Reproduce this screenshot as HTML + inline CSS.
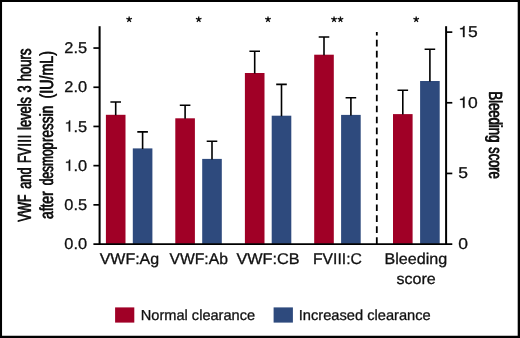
<!DOCTYPE html>
<html><head><meta charset="utf-8"><title>Figure</title>
<style>
html,body{margin:0;padding:0;background:#fff;}
body{width:520px;height:338px;overflow:hidden;position:relative;font-family:"Liberation Sans",sans-serif;}
svg{position:absolute;left:0;top:0;display:block;}
svg.tx{will-change:transform;opacity:0.999;}
text{font-family:"Liberation Sans",sans-serif;fill:#111;text-rendering:geometricPrecision;}
</style></head><body>
<svg width="520" height="338" viewBox="0 0 520 338">
<rect x="0" y="0" width="520" height="338" fill="#fff"/>
<rect x="105.9" y="114.8" width="19.6" height="129.1" fill="#a00026"/>
<rect x="132.8" y="148.4" width="19.6" height="95.5" fill="#2e4a7d"/>
<rect x="175.3" y="118.3" width="19.6" height="125.6" fill="#a00026"/>
<rect x="202.2" y="158.9" width="19.6" height="85.0" fill="#2e4a7d"/>
<rect x="244.9" y="73.0" width="19.6" height="170.9" fill="#a00026"/>
<rect x="271.7" y="115.7" width="19.6" height="128.2" fill="#2e4a7d"/>
<rect x="314.2" y="54.7" width="19.6" height="189.2" fill="#a00026"/>
<rect x="341.1" y="114.9" width="19.6" height="129.0" fill="#2e4a7d"/>
<rect x="393.0" y="114.1" width="19.6" height="129.8" fill="#a00026"/>
<rect x="420.1" y="81.0" width="19.6" height="162.9" fill="#2e4a7d"/>
<path d="M115.70 115.3V102.0M110.40 102.0H121.00" stroke="#000" stroke-width="1.6" fill="none"/>
<path d="M142.60 148.9V131.9M137.30 131.9H147.90" stroke="#000" stroke-width="1.6" fill="none"/>
<path d="M185.10 118.8V105.3M179.80 105.3H190.40" stroke="#000" stroke-width="1.6" fill="none"/>
<path d="M212.00 159.4V141.2M206.70 141.2H217.30" stroke="#000" stroke-width="1.6" fill="none"/>
<path d="M254.70 73.5V51.2M249.40 51.2H260.00" stroke="#000" stroke-width="1.6" fill="none"/>
<path d="M281.50 116.2V84.4M276.20 84.4H286.80" stroke="#000" stroke-width="1.6" fill="none"/>
<path d="M324.00 55.2V37.0M318.70 37.0H329.30" stroke="#000" stroke-width="1.6" fill="none"/>
<path d="M350.90 115.4V97.8M345.60 97.8H356.20" stroke="#000" stroke-width="1.6" fill="none"/>
<path d="M402.80 114.6V90.3M397.50 90.3H408.10" stroke="#000" stroke-width="1.6" fill="none"/>
<path d="M429.90 81.5V49.3M424.60 49.3H435.20" stroke="#000" stroke-width="1.6" fill="none"/>
<path d="M376.8 243.9V32" stroke="#000" stroke-width="1.8" stroke-dasharray="6.6 4.37" fill="none"/>
<path d="M99.6 26.2V244.5" stroke="#000" stroke-width="2.05" fill="none"/>
<path d="M93.4 244.15H452.3" stroke="#000" stroke-width="1.85" fill="none"/>
<path d="M446.1 26.2V244.5" stroke="#000" stroke-width="2.0" fill="none"/>
<path d="M93.4 204.85H99.9" stroke="#000" stroke-width="1.7"/>
<path d="M93.4 165.65H99.9" stroke="#000" stroke-width="1.7"/>
<path d="M93.4 126.45H99.9" stroke="#000" stroke-width="1.7"/>
<path d="M93.4 87.25H99.9" stroke="#000" stroke-width="1.7"/>
<path d="M93.4 48.05H99.9" stroke="#000" stroke-width="1.7"/>
<path d="M446.1 173.44H452.3" stroke="#000" stroke-width="1.7"/>
<path d="M446.1 102.77H452.3" stroke="#000" stroke-width="1.7"/>
<path d="M446.1 32.11H452.3" stroke="#000" stroke-width="1.7"/>
<rect x="115.1" y="307.4" width="19.2" height="15.2" fill="#a00026"/>
<rect x="273.6" y="307.4" width="19.3" height="15.2" fill="#2e4a7d"/>
</svg>
<svg class="tx" width="520" height="338" viewBox="0 0 520 338">
<text transform="translate(129.40 263.80) scale(1.0320 1)" font-size="15.5" stroke="#111" stroke-width="0.3" text-anchor="middle">VWF:Ag</text>
<text transform="translate(198.65 263.80) scale(1.0124 1)" font-size="15.5" stroke="#111" stroke-width="0.3" text-anchor="middle">VWF:Ab</text>
<text transform="translate(268.05 263.80) scale(1.0491 1)" font-size="15.5" stroke="#111" stroke-width="0.3" text-anchor="middle">VWF:CB</text>
<text transform="translate(337.40 263.80) scale(1.0130 1)" font-size="15.5" stroke="#111" stroke-width="0.3" text-anchor="middle">FVIII:C</text>
<text transform="translate(415.85 263.80) scale(1.0398 1)" font-size="15.5" stroke="#111" stroke-width="0.3" text-anchor="middle">Bleeding</text>
<text transform="translate(416.15 283.70) scale(1.0356 1)" font-size="15.5" stroke="#111" stroke-width="0.3" text-anchor="middle">score</text>
<text transform="translate(197.95 319.70) scale(1.0063 1)" font-size="14.5" stroke="#111" stroke-width="0.3" text-anchor="middle">Normal clearance</text>
<text transform="translate(364.70 319.70) scale(1.0109 1)" font-size="14.5" stroke="#111" stroke-width="0.3" text-anchor="middle">Increased clearance</text>
<text transform="translate(87.10 249.10) scale(1.0500 1)" font-size="15.6" stroke="#111" stroke-width="0.3" text-anchor="end">0.0</text>
<text transform="translate(87.10 209.90) scale(1.0500 1)" font-size="15.6" stroke="#111" stroke-width="0.3" text-anchor="end">0.5</text>
<path transform="translate(64.33 170.70) scale(0.01638 -0.01560)" d="M270 0V505H104V566C220 566 288 614 303 709H356V0Z" fill="#111" stroke="#111" stroke-width="19.2"/>
<text transform="translate(87.10 170.70) scale(1.0500 1)" font-size="15.6" stroke="#111" stroke-width="0.3" text-anchor="end">.0</text>
<path transform="translate(64.33 131.50) scale(0.01638 -0.01560)" d="M270 0V505H104V566C220 566 288 614 303 709H356V0Z" fill="#111" stroke="#111" stroke-width="19.2"/>
<text transform="translate(87.10 131.50) scale(1.0500 1)" font-size="15.6" stroke="#111" stroke-width="0.3" text-anchor="end">.5</text>
<text transform="translate(87.10 92.30) scale(1.0500 1)" font-size="15.6" stroke="#111" stroke-width="0.3" text-anchor="end">2.0</text>
<text transform="translate(87.10 53.10) scale(1.0500 1)" font-size="15.6" stroke="#111" stroke-width="0.3" text-anchor="end">2.5</text>
<text transform="translate(458.30 249.10) scale(1.1200 1)" font-size="15.6" stroke="#111" stroke-width="0.3" text-anchor="start">0</text>
<text transform="translate(458.30 178.44) scale(1.1200 1)" font-size="15.6" stroke="#111" stroke-width="0.3" text-anchor="start">5</text>
<path transform="translate(458.30 107.77) scale(0.01747 -0.01560)" d="M270 0V505H104V566C220 566 288 614 303 709H356V0Z" fill="#111" stroke="#111" stroke-width="19.2"/>
<text transform="translate(468.01 107.77) scale(1.1200 1)" font-size="15.6" stroke="#111" stroke-width="0.3" text-anchor="start">0</text>
<path transform="translate(458.30 37.11) scale(0.01747 -0.01560)" d="M270 0V505H104V566C220 566 288 614 303 709H356V0Z" fill="#111" stroke="#111" stroke-width="19.2"/>
<text transform="translate(468.01 37.11) scale(1.1200 1)" font-size="15.6" stroke="#111" stroke-width="0.3" text-anchor="start">5</text>
<path d="M129.15 19.40L129.15 16.45M129.15 19.40L131.96 18.49M129.15 19.40L130.88 21.79M129.15 19.40L127.42 21.79M129.15 19.40L126.34 18.49" stroke="#111" stroke-width="1.3" fill="none"/>
<path d="M198.70 19.40L198.70 16.45M198.70 19.40L201.51 18.49M198.70 19.40L200.43 21.79M198.70 19.40L196.97 21.79M198.70 19.40L195.89 18.49" stroke="#111" stroke-width="1.3" fill="none"/>
<path d="M268.00 19.40L268.00 16.45M268.00 19.40L270.81 18.49M268.00 19.40L269.73 21.79M268.00 19.40L266.27 21.79M268.00 19.40L265.19 18.49" stroke="#111" stroke-width="1.3" fill="none"/>
<path d="M334.05 19.40L334.05 16.45M334.05 19.40L336.86 18.49M334.05 19.40L335.78 21.79M334.05 19.40L332.32 21.79M334.05 19.40L331.24 18.49" stroke="#111" stroke-width="1.3" fill="none"/>
<path d="M340.45 19.40L340.45 16.45M340.45 19.40L343.26 18.49M340.45 19.40L342.18 21.79M340.45 19.40L338.72 21.79M340.45 19.40L337.64 18.49" stroke="#111" stroke-width="1.3" fill="none"/>
<path d="M416.20 19.40L416.20 16.45M416.20 19.40L419.01 18.49M416.20 19.40L417.93 21.79M416.20 19.40L414.47 21.79M416.20 19.40L413.39 18.49" stroke="#111" stroke-width="1.3" fill="none"/>
<text transform="translate(31.1 207.95) rotate(-90) scale(0.6414 1)" font-size="19" text-anchor="middle" stroke="#111" stroke-width="0.2">VWF</text>
<text transform="translate(31.1 208.55) rotate(-90) scale(0.6414 1)" font-size="19" text-anchor="middle" stroke="#111" stroke-width="0.2">VWF</text>
<text transform="translate(31.1 177.82) rotate(-90) scale(0.6728 1)" font-size="19" text-anchor="middle" stroke="#111" stroke-width="0.2">and</text>
<text transform="translate(31.1 178.42) rotate(-90) scale(0.6728 1)" font-size="19" text-anchor="middle" stroke="#111" stroke-width="0.2">and</text>
<text transform="translate(31.1 155.02) rotate(-90) scale(0.6286 1)" font-size="19" text-anchor="middle" stroke="#111" stroke-width="0.2">FV</text>
<text transform="translate(31.1 155.62) rotate(-90) scale(0.6286 1)" font-size="19" text-anchor="middle" stroke="#111" stroke-width="0.2">FV</text>
<text transform="translate(31.1 144.45) rotate(-90) scale(0.6500 1)" font-size="19" text-anchor="middle" stroke="#111" stroke-width="0.2">I</text>
<text transform="translate(31.1 145.05) rotate(-90) scale(0.6500 1)" font-size="19" text-anchor="middle" stroke="#111" stroke-width="0.2">I</text>
<text transform="translate(31.1 140.55) rotate(-90) scale(0.6500 1)" font-size="19" text-anchor="middle" stroke="#111" stroke-width="0.2">I</text>
<text transform="translate(31.1 141.15) rotate(-90) scale(0.6500 1)" font-size="19" text-anchor="middle" stroke="#111" stroke-width="0.2">I</text>
<text transform="translate(31.1 136.40) rotate(-90) scale(0.6000 1)" font-size="19" text-anchor="middle" stroke="#111" stroke-width="0.2">I</text>
<text transform="translate(31.1 137.00) rotate(-90) scale(0.6000 1)" font-size="19" text-anchor="middle" stroke="#111" stroke-width="0.2">I</text>
<text transform="translate(31.1 113.16) rotate(-90) scale(0.6763 1)" font-size="19" text-anchor="middle" stroke="#111" stroke-width="0.2">levels</text>
<text transform="translate(31.1 113.76) rotate(-90) scale(0.6763 1)" font-size="19" text-anchor="middle" stroke="#111" stroke-width="0.2">levels</text>
<text transform="translate(31.1 88.61) rotate(-90) scale(0.6685 1)" font-size="19" text-anchor="middle" stroke="#111" stroke-width="0.2">3</text>
<text transform="translate(31.1 89.21) rotate(-90) scale(0.6685 1)" font-size="19" text-anchor="middle" stroke="#111" stroke-width="0.2">3</text>
<text transform="translate(31.1 64.62) rotate(-90) scale(0.6882 1)" font-size="19" text-anchor="middle" stroke="#111" stroke-width="0.2">hours</text>
<text transform="translate(31.1 65.22) rotate(-90) scale(0.6882 1)" font-size="19" text-anchor="middle" stroke="#111" stroke-width="0.2">hours</text>
<text transform="translate(52.6 204.83) rotate(-90) scale(0.7270 1)" font-size="19" text-anchor="middle" stroke="#111" stroke-width="0.2">after</text>
<text transform="translate(52.6 205.43) rotate(-90) scale(0.7270 1)" font-size="19" text-anchor="middle" stroke="#111" stroke-width="0.2">after</text>
<text transform="translate(52.6 163.70) rotate(-90) scale(0.6309 1)" font-size="19" text-anchor="middle" stroke="#111" stroke-width="0.2">desmop</text>
<text transform="translate(52.6 164.30) rotate(-90) scale(0.6309 1)" font-size="19" text-anchor="middle" stroke="#111" stroke-width="0.2">desmop</text>
<text transform="translate(52.6 123.64) rotate(-90) scale(0.7152 1)" font-size="19" text-anchor="middle" stroke="#111" stroke-width="0.2">ressin</text>
<text transform="translate(52.6 124.24) rotate(-90) scale(0.7152 1)" font-size="19" text-anchor="middle" stroke="#111" stroke-width="0.2">ressin</text>
<text transform="translate(52.6 74.45) rotate(-90) scale(0.7494 1)" font-size="19" text-anchor="middle" stroke="#111" stroke-width="0.2">(IU/mL)</text>
<text transform="translate(52.6 75.05) rotate(-90) scale(0.7494 1)" font-size="19" text-anchor="middle" stroke="#111" stroke-width="0.2">(IU/mL)</text>
<text transform="translate(488.8 116.62) rotate(90) scale(0.6879 1)" font-size="19" text-anchor="middle" stroke="#111" stroke-width="0.2">Bleeding</text>
<text transform="translate(488.8 117.22) rotate(90) scale(0.6879 1)" font-size="19" text-anchor="middle" stroke="#111" stroke-width="0.2">Bleeding</text>
<text transform="translate(488.8 162.73) rotate(90) scale(0.6785 1)" font-size="19" text-anchor="middle" stroke="#111" stroke-width="0.2">score</text>
<text transform="translate(488.8 163.33) rotate(90) scale(0.6785 1)" font-size="19" text-anchor="middle" stroke="#111" stroke-width="0.2">score</text>
<path d="M0 0H520V338H0ZM2.05 2.05V335.7H517.7V2.05Z" fill="#000" fill-rule="evenodd"/>
</svg></body></html>
